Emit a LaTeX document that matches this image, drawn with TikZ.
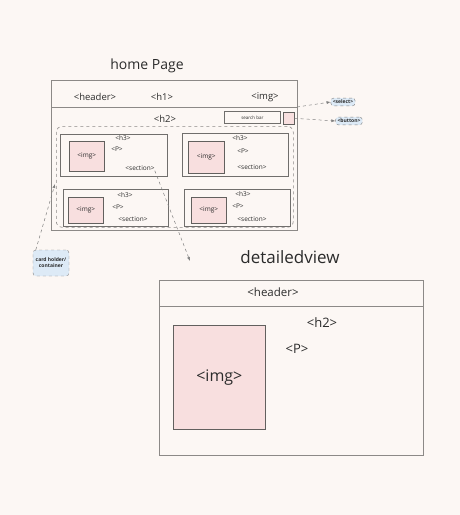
\documentclass[tikz,border=0pt]{standalone}
\usepackage{fontspec}
\setmainfont{Open Sans}
\usetikzlibrary{arrows.meta, positioning, calc}

\definecolor{paper}{HTML}{FCF7F4}
\definecolor{pen}{HTML}{8C8987}
\definecolor{ink}{HTML}{2B2B2B}
\definecolor{imgpink}{HTML}{F8DFDF}
\definecolor{notebg}{HTML}{DDEAF6}

\begin{document}
\begin{tikzpicture}[
  x=1pt, y=-1pt, >=Latex,
  frame/.style  = {draw=pen, line width=0.9pt, inner sep=0pt, anchor=north west},
  card/.style   = {draw=pen!80!black, line width=0.7pt, inner sep=0pt, anchor=north west},
  imgbox/.style = {draw=pen!70!black, line width=0.6pt, fill=imgpink, inner sep=0pt, anchor=north west},
  holder/.style = {draw=pen, dashed, line width=0.6pt, rounded corners=6pt, inner sep=0pt, anchor=north west},
  tag/.style    = {text=ink, inner sep=0pt, font=\fontsize{9.5}{10}\selectfont},
  small/.style  = {text=ink, inner sep=0pt, font=\fontsize{6.5}{7}\selectfont},
  big/.style    = {text=ink, inner sep=0pt, font=\fontsize{14}{16}\selectfont},
  note/.style   = {draw=gray, dashed, fill=notebg, rounded corners=3pt, inner sep=2pt,
                   text=ink, align=center, font=\fontsize{5}{6}\selectfont\bfseries},
  link/.style   = {draw=gray, dashed, line width=0.5pt, ->, >={Latex[length=4pt]}},
]
  \fill[paper] (0,0) rectangle (460,515);
  \useasboundingbox (0,0) rectangle (460,515);

  % Home page frame
  \node[big] (hometitle) at (147,66) {home Page};
  \node[frame, minimum width=246pt, minimum height=150pt] (home) at (51,80) {};
  \coordinate (hdivL) at (51,107);
  \coordinate (hdivR) at (297,107);
  \draw[pen, line width=0.9pt] (hdivL) -- (hdivR);
  \node[tag] (hheader) at (95,97)  {<header>};
  \node[tag] (hhone)   at (162,97) {<h1>};
  \node[tag] (himg)    at (265,97) {<img>};
  \node[tag] (hhtwo)   at (165,119) {<h2>};
  \node[card, minimum width=56pt, minimum height=12pt, font=\fontsize{4.5}{5}\selectfont,
        text=ink] (search) at (224,111) {search bar};
  \node[imgbox, minimum width=11pt, minimum height=12pt] (btn) at (283,112) {};

  % Card holder container
  \node[holder, minimum width=237pt, minimum height=101pt] (cards) at (56,126) {};

  % Cards
  \node[card, minimum width=107pt, minimum height=42pt] (cardA) at (60,134) {};
  \node[imgbox, minimum width=35pt, minimum height=30pt] (imgA) at (69,141) {};
  \node[small] at (imgA.center) {<img>};
  \node[small] (hA)   at (123,138) {<h3>};
  \node[small] (pA)   at (117,149) {<P>};
  \node[small] (secA) at (140,168) {<section>};

  \node[card, minimum width=106pt, minimum height=43pt] (cardB) at (182,133) {};
  \node[imgbox, minimum width=36pt, minimum height=32pt] (imgB) at (188,141) {};
  \node[small] at (imgB.center) {<img>};
  \node[small] (hB)   at (240,138) {<h3>};
  \node[small] (pB)   at (243,151) {<P>};
  \node[small] (secB) at (252,167) {<section>};

  \node[card, minimum width=105pt, minimum height=37pt] (cardC) at (63,189) {};
  \node[imgbox, minimum width=35pt, minimum height=26pt] (imgC) at (68,197) {};
  \node[small] at (imgC.center) {<img>};
  \node[small] (hC)   at (125,195) {<h3>};
  \node[small] (pC)   at (118,207) {<P>};
  \node[small] (secC) at (133,219) {<section>};

  \node[card, minimum width=106pt, minimum height=37pt] (cardD) at (184,189) {};
  \node[imgbox, minimum width=35pt, minimum height=26pt] (imgD) at (191,197) {};
  \node[small] at (imgD.center) {<img>};
  \node[small] (hD)   at (243,194) {<h3>};
  \node[small] (pD)   at (238,206) {<P>};
  \node[small] (secD) at (252,219) {<section>};

  % Notes
  \node[note] (select)  at (343,102) {<select>};
  \node[note] (button)  at (349,121) {<button>};
  \node[note, minimum width=36pt, minimum height=26pt] (holdnote) at (51,263)
      {card holder/\\container};

  \coordinate (holdtip)   at (55,184);
  \coordinate (detailtip) at (190,261);

  \draw[link] (hdivR) -- (select.west);
  \draw[link] (btn.east) -- (button.west);
  \draw[link] (holdnote.north west) ++(3,0) -- (holdtip);
  \draw[link] (secA.south east) -- (detailtip);

  % Detailed view frame
  \node[big, font=\fontsize{17}{19}\selectfont] (detailtitle) at (290,257) {detailedview};
  \node[frame, minimum width=264pt, minimum height=175pt] (detail) at (159,280) {};
  \coordinate (ddivL) at (159,306);
  \coordinate (ddivR) at (423,306);
  \draw[pen, line width=0.9pt] (ddivL) -- (ddivR);
  \node[tag, font=\fontsize{11.5}{12}\selectfont] (dheader) at (273,292) {<header>};
  \node[imgbox, minimum width=92pt, minimum height=104pt] (dimg) at (173,325) {};
  \node[big, font=\fontsize{16}{18}\selectfont] at (dimg.center) {<img>};
  \node[big, font=\fontsize{13}{15}\selectfont] (dhtwo) at (322,323) {<h2>};
  \node[big, font=\fontsize{13}{15}\selectfont] (dp)    at (297,349) {<P>};
\end{tikzpicture}
\end{document}
